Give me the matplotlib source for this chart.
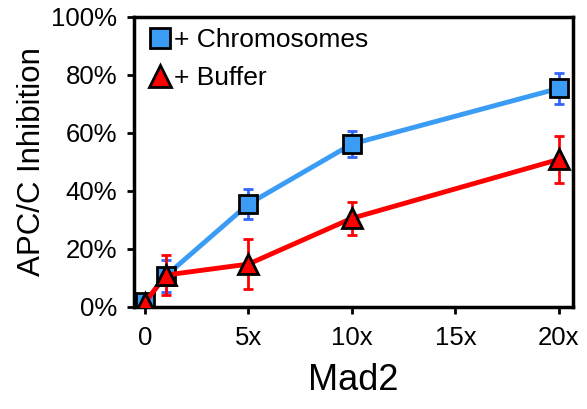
import matplotlib
matplotlib.use("Agg")
import matplotlib.pyplot as plt
from matplotlib.ticker import FuncFormatter

plt.rcParams['font.family'] = ['Liberation Sans', 'DejaVu Sans']

# Mad2 dose (fold excess)
mad2 = [0, 1, 5, 10, 20]

# APC/C inhibition (%) with chromosomes
chrom = [1.7, 10.7, 35.5, 56.2, 75.4]
chrom_err = [1.0, 5.5, 5.2, 4.5, 5.4]

# APC/C inhibition (%) with buffer only
buffer_ = [1.5, 11.0, 14.8, 30.6, 50.9]
buffer_err = [1.0, 7.0, 8.7, 5.7, 8.0]

xticks = [0, 5, 10, 15, 20]
xtick_labels = ["0", "5x", "10x", "15x", "20x"]
yticks = [0, 20, 40, 60, 80, 100]

blue = "#3a9cf5"
blue_err = "#3366ff"
red = "#ff0000"

fig = plt.figure(figsize=(5.87, 4.09), dpi=100)
ax = fig.add_axes([134 / 587, 1 - 307 / 409, (573 - 134) / 587, (307 - 17) / 409])

ax.errorbar(mad2, chrom, yerr=chrom_err, fmt="none", ecolor=blue_err,
            elinewidth=2, capsize=3.5, capthick=2, zorder=2)
ax.errorbar(mad2, buffer_, yerr=buffer_err, fmt="none", ecolor=red,
            elinewidth=2, capsize=3.5, capthick=2, zorder=2)

ax.plot(mad2, chrom, color=blue, lw=3.5, zorder=3)
ax.plot(mad2, chrom, ls="none", marker="s", ms=13, mfc=blue, mec="black",
        mew=2, zorder=4, label="+ Chromosomes")
ax.plot(mad2, buffer_, color=red, lw=3.5, zorder=5)
ax.plot(mad2, buffer_, ls="none", marker="^", ms=14, mfc=red, mec="black",
        mew=2, zorder=6, label="+ Buffer")

ax.set_xlim(-0.53, 20.68)
ax.set_ylim(0, 100)
ax.set_xticks(xticks)
ax.set_xticklabels(xtick_labels)
ax.set_yticks(yticks)
ax.yaxis.set_major_formatter(FuncFormatter(lambda v, p: f"{int(v)}%"))

for s in ax.spines.values():
    s.set_linewidth(2.5)
ax.tick_params(axis="both", direction="out", length=5, width=2,
               labelsize=18.5)
ax.tick_params(axis="y", pad=7)
ax.tick_params(axis="x", pad=9)

ax.set_xlabel("Mad2", fontsize=26, labelpad=9)
ax.set_ylabel("APC/C Inhibition", fontsize=22.5, labelpad=3)

ax.legend(loc="upper left", frameon=False, fontsize=19, handlelength=0.8,
          handletextpad=0.15, borderaxespad=0.0, borderpad=0.25,
          labelspacing=0.55, markerscale=1.1, bbox_to_anchor=(0.02, 0.985))

fig.savefig("out.png", dpi=100)
